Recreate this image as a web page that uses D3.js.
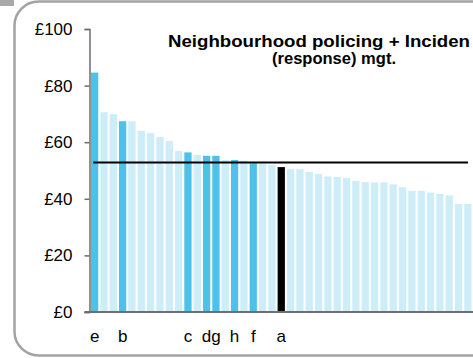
<!DOCTYPE html>
<html><head><meta charset="utf-8">
<script src="https://cdn.jsdelivr.net/npm/d3@7"></script>
<style>
html,body{margin:0;padding:0;background:#fff;overflow:hidden}
svg{display:block;font-family:"Liberation Sans",Arial,sans-serif}
</style></head>
<body><svg id="c" width="473" height="358"></svg>
<script>
const values = [84.6,70.6,69.9,67.4,67.4,64.0,63.3,61.8,60.4,56.9,56.4,55.5,55.2,55.2,53.7,53.7,53.5,52.5,52.3,52.0,51.2,
  50.5,50.5,49.5,48.8,47.9,47.7,47.3,46.3,45.9,45.8,45.8,45.1,44.1,42.8,42.8,42.2,41.7,41.2,38.2,38.2];
const labels = ["e","","","b","","","","","","","c","","d","g","","h","","f","","","a",
  "","","","","","","","","","","","","","","","","","","",""];
const highlightKind = ["dark","","","dark","","","","","","","dark","","dark","dark","","dark","","dark","","","self",
  "","","","","","","","","","","","","","","","","","","",""];
const average = 52.8;
const yTicks = [0,20,40,60,80,100];
const yTickLabels = ["£0","£20","£40","£60","£80","£100"];
const titleLines = ["Neighbourhood policing + Inciden","(response) mgt."];

const svg = d3.select("#c");
// frame
svg.append("rect").attr("x",0).attr("y",0).attr("width",14).attr("height",6).attr("fill","#a8a8a8");
svg.append("rect").attr("x",14.5).attr("y",1.5).attr("width",520).attr("height",354)
  .attr("rx",24).attr("fill","#fff").attr("stroke","#a3a3a3").attr("stroke-width",2.5);

const x = d3.scaleBand().domain(d3.range(values.length)).range([89.5,473]).paddingInner(0.22).paddingOuter(0.16);
const y = d3.scaleLinear().domain([0,100]).range([312,29]);

const colors = {dark:"#4cc2eb", self:"#000000", "":"#cdedf9"};
svg.append("g").selectAll("rect").data(values).join("rect")
  .attr("x",(d,i)=>x(i)).attr("width",x.bandwidth())
  .attr("y",d=>y(d)).attr("height",d=>y(0)-y(d))
  .attr("fill",(d,i)=>colors[highlightKind[i]]);

// y axis
const ya = d3.axisLeft(y).tickValues(yTicks).tickFormat((d,i)=>yTickLabels[i]).tickSize(5).tickPadding(12);
const yg = svg.append("g").attr("transform","translate(89.5,0)").call(ya);
yg.select(".domain").attr("stroke","#6e6e6e").attr("stroke-width",1.5);
yg.selectAll(".tick line").attr("stroke","#6e6e6e").attr("stroke-width",1.5);
yg.selectAll(".tick text").attr("font-size","17px").attr("fill","#000").attr("font-family","Liberation Sans, Arial, sans-serif");

// x axis baseline
svg.append("line").attr("x1",84.5).attr("x2",473).attr("y1",y(0)).attr("y2",y(0))
  .attr("stroke","#6e6e6e").attr("stroke-width",2);

// x labels
svg.append("g").selectAll("text").data(labels.map((l,i)=>({l,i})).filter(d=>d.l)).join("text")
  .attr("x",d=>x(d.i)+x.bandwidth()/2).attr("y",341.5).attr("text-anchor","middle")
  .attr("font-size","17px").attr("fill","#000").text(d=>d.l);

// average line
svg.append("line").attr("x1",x(0)+2.3).attr("x2",x(values.length-1)+3.8)
  .attr("y1",y(average)).attr("y2",y(average)).attr("stroke","#000").attr("stroke-width",2);

// title
svg.append("text").attr("x",168).attr("y",46.5).attr("font-weight","bold").attr("font-size","16.5px")
  .attr("textLength",302).attr("lengthAdjust","spacingAndGlyphs").text(titleLines[0]);
svg.append("text").attr("x",272).attr("y",63.5).attr("font-weight","bold").attr("font-size","16.5px")
  .attr("textLength",124).attr("lengthAdjust","spacingAndGlyphs").text(titleLines[1]);
</script></body></html>
